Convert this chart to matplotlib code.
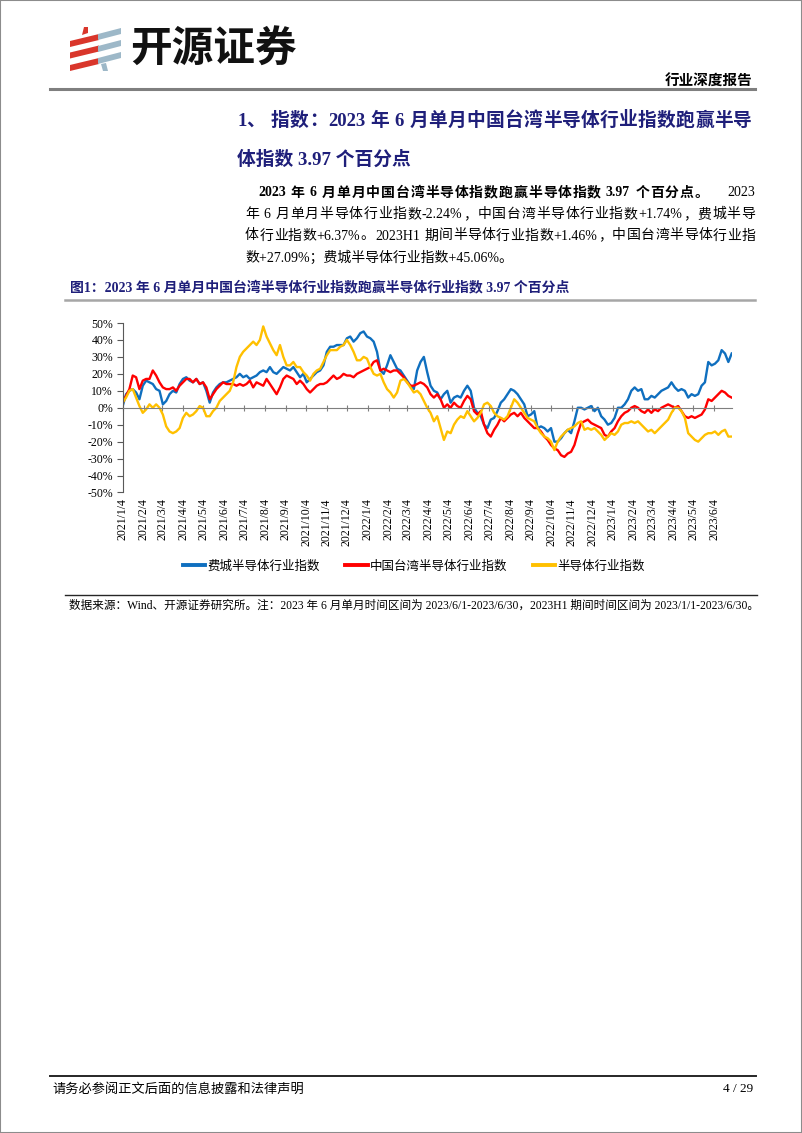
import re
import numpy as np
import pandas as pd
import matplotlib
matplotlib.use('Agg')
import matplotlib.pyplot as plt
import matplotlib.transforms as mtransforms
from matplotlib.lines import Line2D
from matplotlib.patches import Polygon, Rectangle
from matplotlib.ticker import FuncFormatter

W, H = 802, 1133
CJK = ['Liberation Serif', 'Noto Sans CJK SC']
plt.rcParams['font.family'] = CJK

# ---- data (% change since 2021/1/4, ~5 day steps) ----
start, end = '2021-01-04', '2023-06-30'

phlx = [1, 8, 10, 11, 9, 5, 13, 16, 15, 14,
        11, 10, 2, 4, 8, 10, 9, 14, 17, 18,
        16, 15, 17, 14, 15, 10, 3, 9, 12, 14,
        15, 15, 16, 17, 18, 20, 18, 19, 17, 18,
        19, 21, 22, 21, 24, 21, 20, 22, 24, 23,
        22, 24, 21, 18, 20, 15, 17, 19, 21, 22,
        25, 33, 36, 36, 37, 37, 37, 41, 42, 39,
        41, 44, 45, 42, 41, 39, 33, 22, 20, 25,
        31, 27, 23,
        22, 19, 16, 13, 11, 22, 27, 30, 21, 13,
        10, 9, 5, 8, 10, 3, 6, 7, 6, 10,
        13, 10, 0, -3, -5, -10, -12, -7, -6, -2,
        3, 5, 8, 11, 10, 8, 5, 2, -5, -4,
        -2, -12, -11, -12, -14, -12, -20, -20, -18, -15,
        -13, -15, -8, 0, 0, -1, 0, 1, -2, 0,
        -5, -7, -10, -9, -6, 0, 0, 2, 5, 10,
        12, 10, 11, 5, 5, 7, 6, 8, 10, 11,
        12, 15, 12, 10, 11, 10, 6, 8, 7, 8,
        13, 15, 27, 25, 26, 28, 34, 32, 27, 32]

taiwan = [3, 7, 11, 19, 18, 11, 16, 17, 17, 22,
          19, 15, 12, 11, 11, 12, 10, 13, 15, 17,
          17, 15, 17, 14, 15, 12, 5, 8, 11, 13,
          15, 14, 14, 14, 13, 14, 13, 14, 16, 12,
          15, 14, 13, 17, 14, 11, 8, 12, 17, 19,
          18, 17, 14, 16, 14, 11, 9, 11, 13, 14,
          14, 15, 17, 19, 17, 18, 20, 19, 19, 18,
          20, 21, 22, 23, 24, 27, 28, 22, 23, 22,
          21, 22, 22,
          20, 18, 15, 13, 13, 14, 15, 14, 12, 8,
          6, 8, 5, 0, 2, 0, 3, 1, 0, 4,
          7, 5, -2, -4, -2, -10, -15, -17, -13, -10,
          -6, -8, -6, -4, -3, -5, -3, -6, -8, -10,
          -12, -12, -14, -17, -19, -22, -24, -25, -28, -29,
          -27, -26, -22, -15, -9, -8, -7, -9, -10, -11,
          -12, -16, -17, -14, -12, -8, -5, -3, -2, 0,
          1, 0, -2, -3, -1, -3, -1, -2, 0, 1,
          2, 1, 0, 1, -2, -5, -6, -5, -6, -5,
          -4, -1, 5, 4, 6, 8, 10, 9, 7, 6]

semi = [3, 6, 10, 11, 6, 1, -3, -1, 2, 0,
        2, 0, -4, -11, -14, -15, -14, -12, -6, -3,
        -5, -4, -2, 1, 0, -5, -5, -2, 0, 4,
        6, 8, 10, 15, 24, 30, 33, 35, 37, 39,
        37, 40, 48, 42, 38, 34, 31, 37, 30, 25,
        25, 27, 24, 24, 21, 19, 16, 20, 22, 23,
        27, 31, 34, 34, 34, 36, 37, 40, 37, 33,
        28, 28, 30, 29, 24, 20, 19, 20, 15, 11,
        9, 6, 9,
        16, 17, 15, 12, 9, 10, 8, 4, 0, -3,
        -8, -5, -12, -19, -14, -15, -10, -7, -5, -6,
        -2, -5, -8, -6, -3, 2, 3, 1, -3, -5,
        -6, -7, -5, 0, 5, 3, 0, -3, -6, -7,
        -8, -12, -15, -17, -18, -20, -25, -20, -17, -15,
        -13, -12, -11, -9, -8, -13, -12, -13, -12, -14,
        -16, -19, -17, -15, -16, -14, -10, -9, -9, -8,
        -9, -8, -10, -12, -14, -13, -15, -13, -11, -9,
        -7, -3, 0, 0, -2, -6, -15, -17, -19, -20,
        -18, -16, -15, -15, -14, -16, -14, -13, -17, -17]

names = ['费城半导体行业指数', '中国台湾半导体行业指数', '半导体行业指数']
colors = ['#0F6FBF', '#FF0000', '#FFC000']
tick_dates = [pd.Timestamp(2021, 1, 4) + pd.DateOffset(months=i) for i in range(30)]
tick_labels = [f'{d.year}/{d.month}/{d.day}' for d in tick_dates]

title1 = '1、 指数：2023 年 6 月单月中国台湾半导体行业指数跑赢半导'
title2 = '体指数 3.97 个百分点'
para1_bold = '2023 年 6 月单月中国台湾半导体指数跑赢半导体指数 3.97 个百分点。'
para_lines = ['年 6 月单月半导体行业指数-2.24%，中国台湾半导体行业指数+1.74%，费城半导',
              '体行业指数+6.37%。2023H1 期间半导体行业指数+1.46%，中国台湾半导体行业指',
              '数+27.09%；费城半导体行业指数+45.06%。']
caption = '图1：2023 年 6 月单月中国台湾半导体行业指数跑赢半导体行业指数 3.97 个百分点'
source = ('数据来源：Wind、开源证券研究所。注：2023 年 6 月单月时间区间为 2023/6/1-2023/6/30，'
          '2023H1 期间时间区间为 2023/1/1-2023/6/30。')
footer = '请务必参阅正文后面的信息披露和法律声明'
NAVY = '#1F1F7A'


def fx(x):
    return x / W


def fy(y):
    return 1 - y / H


fig = plt.figure(figsize=(W / 100, H / 100), dpi=100)
renderer = fig.canvas.get_renderer()


def hline(y, x0, x1, color, lw):
    fig.add_artist(Line2D([fx(x0), fx(x1)], [fy(y), fy(y)], color=color, lw=lw))


def justify(s, x0, x1, y, size, weight='normal', color='black'):
    toks = re.findall(r'[A-Za-z0-9.%+\-/]+| |.', s)
    objs, widths = [], []
    for t in toks:
        if t == ' ':
            objs.append(None)
            widths.append(size * 100 / 72 * 0.25)
            continue
        o = fig.text(0, fy(y), t, fontsize=size, weight=weight, color=color,
                     va='center', ha='left')
        widths.append(o.get_window_extent(renderer=renderer).width)
        objs.append(o)
    gap = (x1 - x0 - sum(widths)) / max(len(toks) - 1, 1)
    x = x0
    for o, w in zip(objs, widths):
        if o is not None:
            o.set_x(fx(x))
        x += w + gap


# page frame
fig.add_artist(Rectangle((0, 0), 1, 1, transform=fig.transFigure, fill=False,
                         edgecolor='#8c8c8c', lw=1.5))

# logo
for yb in (47, 58.5, 71):
    pts = [(70, yb), (99, yb - 7), (99, yb - 13), (70, yb - 6)]
    fig.add_artist(Polygon([(fx(a), fy(b)) for a, b in pts], closed=True,
                           transform=fig.transFigure, color='#D9362B', lw=0))
fig.add_artist(Polygon([(fx(a), fy(b)) for a, b in [(82, 35), (88, 33), (88, 27), (84, 27)]],
                       closed=True, transform=fig.transFigure, color='#D9362B', lw=0))
for yb in (40, 52, 64):
    pts = [(98, yb), (121, yb - 6), (121, yb - 12), (98, yb - 6)]
    fig.add_artist(Polygon([(fx(a), fy(b)) for a, b in pts], closed=True,
                           transform=fig.transFigure, color='#9DB8C8', lw=0))
fig.add_artist(Polygon([(fx(a), fy(b)) for a, b in [(101, 64), (106, 63), (108, 71), (103, 71)]],
                       closed=True, transform=fig.transFigure, color='#9DB8C8', lw=0))
fig.text(fx(130), fy(50), '开源证券', fontsize=30, weight='black',
         family=['Noto Sans CJK SC'], va='center', ha='left', color='#111111')
fig.text(fx(753), fy(82), '行业深度报告', fontsize=10.5, weight='bold',
         va='center', ha='right')
hline(89, 50, 755, '#7f7f7f', 2.2)

# heading and paragraph
justify(title1, 237, 752, 121, 13.5, 'bold', NAVY)
fig.text(fx(237), fy(160), title2, fontsize=13.5, weight='bold', color=NAVY,
         va='center', ha='left')
justify(para1_bold, 258, 708, 193, 10, 'bold')
fig.text(fx(755), fy(193), '2023', fontsize=10, va='center', ha='right')
justify(para_lines[0], 245, 755, 214.5, 10)
justify(para_lines[1], 245, 755, 236, 10)
fig.text(fx(245), fy(257.5), para_lines[2], fontsize=10, va='center', ha='left')

fig.text(fx(70), fy(287), caption, fontsize=10, weight='bold', color=NAVY,
         va='center', ha='left')
hline(300, 65, 755, '#a6a6a6', 1.8)

# chart
ax = fig.add_axes([fx(122.7), fy(492.5), (731.7 - 122.7) / W, (492.5 - 323) / H])
dates = pd.date_range(start, end, periods=len(phlx))
for vals, name, c in zip([phlx, taiwan, semi], names, colors):
    ax.plot(dates, np.array(vals) / 100, color=c, lw=1.7, label=name)
ax.set_xlim(pd.Timestamp(start), pd.Timestamp(end))
ax.set_ylim(-0.5, 0.5)
ax.set_yticks(np.arange(-5, 6) / 10)
ax.yaxis.set_major_formatter(FuncFormatter(lambda v, p: f'{v * 100:.0f}%'))
for s in ('top', 'right'):
    ax.spines[s].set_visible(False)
ax.spines['bottom'].set_position(('data', 0))
ax.spines['bottom'].set_color('#7f7f7f')
ax.spines['left'].set_color('#595959')
ax.set_xticks(tick_dates)
ax.set_xticklabels([])
ax.tick_params(axis='x', direction='inout', length=5, color='#7f7f7f')
ax.tick_params(axis='y', direction='out', length=4, color='#595959', labelsize=8.5, pad=3)
for lab in ax.get_yticklabels():
    lab.set_family('Liberation Serif')
trans = mtransforms.blended_transform_factory(ax.transData, ax.transAxes)
for d, lab in zip(tick_dates, tick_labels):
    ax.text(d, -0.035, lab, transform=trans, rotation=90, ha='center', va='top',
            fontsize=8.5, family='Liberation Serif')

handles = [Line2D([], [], color=c, lw=2.8) for c in colors]
fig.legend(handles, names, loc='center', bbox_to_anchor=(fx(414), fy(566)), ncol=3,
           frameon=False, prop={'family': ['Noto Sans CJK SC'], 'size': 9},
           handlelength=1.8, handletextpad=0.2, columnspacing=2.0)

hline(595, 65, 757, '#262626', 1.0)
fig.text(fx(69), fy(606), source, fontsize=8.35, va='center', ha='left')

# footer
hline(1076, 50, 756, '#262626', 1.4)
fig.text(fx(52), fy(1089), footer, fontsize=9.5, va='center', ha='left')
fig.text(fx(753), fy(1089), '4 / 29', fontsize=9.5, va='center', ha='right')

fig.savefig('out.png', dpi=100)
